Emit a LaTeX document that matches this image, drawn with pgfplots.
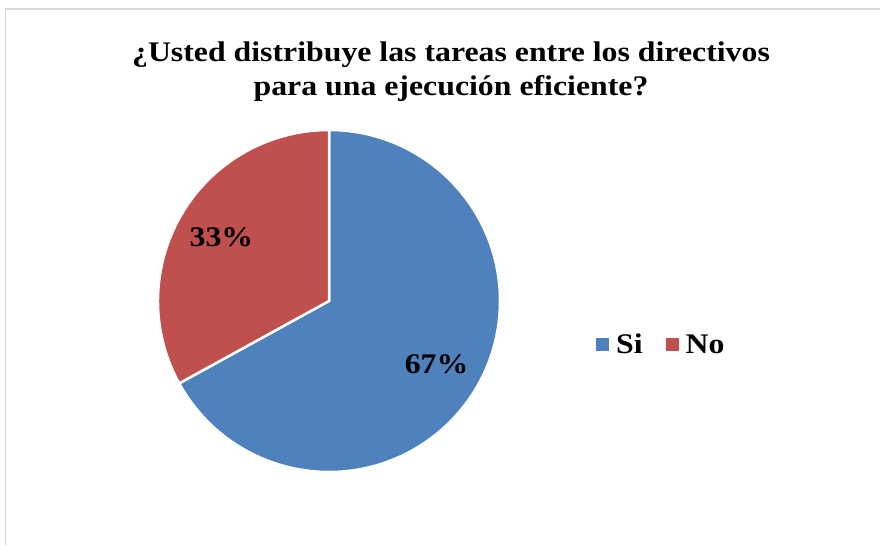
\documentclass[border=0pt]{standalone}
\usepackage{graphicx}
\usepackage{pgfplots}
\pgfplotsset{compat=1.18}
\usepackage{pgfplotstable}
\usepackage{fontspec}
\setmainfont{Liberation Serif}

\definecolor{siblue}{HTML}{4F81BD}
\definecolor{nored}{HTML}{C0504D}
\definecolor{framegray}{HTML}{D9D9D9}

% share of answers, in percent
\pgfplotstableread{
label value
Si 67
No 33
}\piedata

\newcommand{\bigbf}{\fontsize{28.5}{34}\selectfont\bfseries}
\newcommand{\wide}[1]{\scalebox{1.12}[1]{#1}}

\begin{document}
\begin{tikzpicture}
\pgfplotstablegetelem{0}{value}\of\piedata \let\vSi\pgfplotsretval
\pgfplotstablegetelem{1}{value}\of\piedata \let\vNo\pgfplotsretval
% slices run clockwise from 12 o'clock
\pgfmathsetmacro\aB{90-\vSi*3.6}
\pgfmathsetmacro\aE{\aB-\vNo*3.6}
\pgfmathsetmacro\mSi{90-\vSi*1.8}
\pgfmathsetmacro\mNo{\aB-\vNo*1.8}
\begin{axis}[
    name=ax,
    x=1bp, y=1bp, scale only axis,
    xmin=0, xmax=880, ymin=0, ymax=545,
    hide axis, clip=false,
    legend style={at={(axis cs:596,200.5)}, anchor=west, draw=none, fill=none,
        inner sep=0pt, legend columns=2,
        font=\bigbf,
        /tikz/every even column/.append style={column sep=21bp}},
    legend image code/.code={\fill[#1, draw=none] (0bp,-6.5bp) rectangle (13bp,6.5bp);
        \path[draw=none, fill=none] (0bp,-0.1bp) rectangle (18bp,0.1bp);},
]
\draw[framegray, line width=1.2bp] (axis cs:5.5,0) -- (axis cs:5.5,536) -- (axis cs:880,536);

\filldraw[fill=siblue, draw=white, line width=2.5bp] (axis cs:329,244) -- ++(90:171bp)
    arc[start angle=90, end angle=\aB, radius=171bp] -- cycle;
\filldraw[fill=nored, draw=white, line width=2.5bp] (axis cs:329,244) -- ++(\aB:171bp)
    arc[start angle=\aB, end angle=\aE, radius=171bp] -- cycle;

\path[font=\bigbf]
    (axis cs:329,244) ++(\mSi:125bp) node {\wide{\vSi\%}}
    (axis cs:329,244) ++(\mNo:125bp) node {\wide{\vNo\%}};

\node[font=\bigbf, anchor=base] at (axis cs:451,483.3)
    {\wide{¿Usted distribuye las tareas entre los directivos}};
\node[font=\bigbf, anchor=base] at (axis cs:451,449)
    {\wide{para una ejecución eficiente?}};

\addlegendimage{fill=siblue}
\addlegendentry{\wide{Si}}
\addlegendimage{fill=nored}
\addlegendentry{\wide{No}}
\end{axis}
\pgfresetboundingbox
\path[use as bounding box] (ax.south west) rectangle (ax.north east);
\end{tikzpicture}
\end{document}
